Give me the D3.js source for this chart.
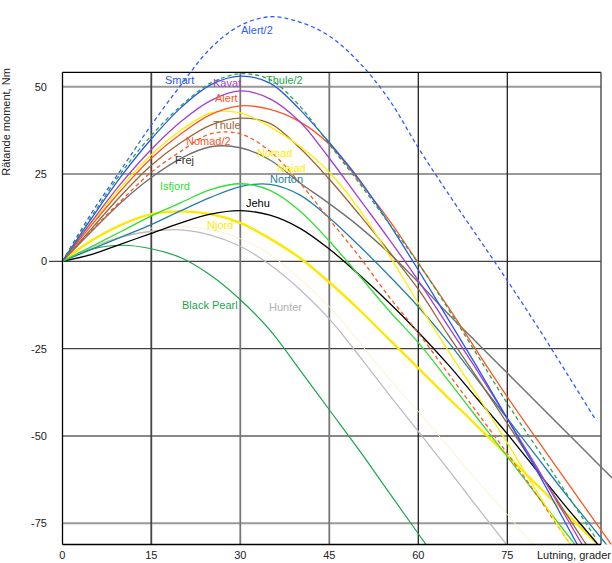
<!DOCTYPE html>
<html><head><meta charset="utf-8">
<script src="https://cdn.jsdelivr.net/npm/d3@7"></script>
<style>body{margin:0;background:#fff}svg{display:block}text{font-family:"Liberation Sans",Arial,sans-serif}</style>
</head><body>
<svg id="c" width="612" height="563"></svg>
<script>
const degrees = [0,5,10,15,20,25,30,35,40,45,50,55,60,65,70,75,80,85,90,95];
const xTicks = [0,15,30,45,60,75];
const yTicks = [50,25,0,-25,-50,-75];
const xTitle = "Lutning, grader";
const yTitle = "Rätande moment, Nm";

const alert2   = [0,14,26.5,39,50.5,61,67.5,70,68.5,64.5,57,46.5,32.5,19.5,7,-5.5,-18.5,-32,-45.7];
const smart    = [0,12.5,24.5,35,44,50.5,53,51,43.5,34,23.5,11,-2.5,-16.5,-30.5,-45,-60,-75.5,-91];
const kavat    = [0,11.5,22.5,32,40,46,48.8,46.5,40,29.5,18,6.5,-5.5,-18.5,-31.5,-45,-59,-73.5,-88];
const thule2   = [0,13,25.5,36,44.5,51,53.7,52,44.5,33.5,22.5,11,-0.5,-13.5,-27,-40.7,-53.5,-66.5,-79.5];
const alertS   = [0,10.5,20.5,29.5,36.5,42,44.5,43.5,40,33.5,23,12,-0.5,-13,-26,-38.8,-51,-63,-75,-87];
const nomad    = [0,11,21.5,30.5,37.5,42.5,42.5,38.5,33,25.5,15,2,-12,-25.5,-38.5,-52,-66,-79.5,-93];
const thule    = [0,9.5,19,27.5,34,39,41,39.5,32.5,23.5,13.5,3,-8,-21,-33.5,-46.4,-59.5,-72.5,-85.5];
const nomad2   = [0,9,17.5,25.5,31.5,36.5,36.5,31.5,22.5,12,1.5,-10,-20.5,-32,-43.5,-55,-67,-79.5,-92];
const frej     = [0,8.7,17,24,29.5,32.8,32.5,29,22.5,16.5,10,2.5,-6,-15,-23.5,-32,-40.5,-49,-57.5,-66];
const isfjord  = [0,4.3,8.6,13,16.8,20.5,22.2,20.3,14.5,5.8,-4,-14,-23.3,-34,-45,-55.9,-67,-78,-89];
const norton   = [0,3.5,7,10.5,14.5,18.3,21.4,22,19,12.5,4.5,-4,-13,-23,-34,-45,-56,-67,-77.5,-88];
const jehu     = [0,2,5,8,11,13.5,14.5,13.2,9.5,3.5,-3.8,-11.7,-20.3,-29.5,-39.5,-49.4,-60,-70.5,-80.5,-91];
const njord    = [0,6,10.5,13.5,14.3,13.5,11,6.5,1,-6,-13.8,-22.2,-30.6,-39,-47.3,-55.6,-64,-72.3,-80.6];
const hunter   = [0,4,7,8.6,9,7.5,4.3,-1,-8,-16.5,-27,-38,-48.7,-59.5,-70.5,-81.4,-92];
const blackP   = [0,3.5,4.6,3.6,1,-4,-11,-19.7,-31,-42.5,-54,-66,-78,-90];
const najad    = [0,4,7.5,9.5,10,9,6.5,2,-5,-13,-23,-33.5,-43,-53,-63,-72.5,-82.5];

const series = [
  {name:"Najad", v:najad, color:"#fbf1c8", w:1, dash:null},
  {name:"Alert/2", v:alert2, color:"#2f5cff", w:1.3, dash:"4,3"},
  {name:"Black Pearl", v:blackP, color:"#1aa64a", w:1.2, dash:null},
  {name:"Hunter", v:hunter, color:"#bdbdbd", w:1.3, dash:null},
  {name:"Njord", v:njord, color:"#ffe800", w:2.4, dash:null},
  {name:"Jehu", v:jehu, color:"#000000", w:1.3, dash:null},
  {name:"Norton", v:norton, color:"#237fa8", w:1.3, dash:null},
  {name:"Isfjord", v:isfjord, color:"#33dd33", w:1.3, dash:null},
  {name:"Frej", v:frej, color:"#707070", w:1.4, dash:null},
  {name:"Nomad/2", v:nomad2, color:"#ff5522", w:1.3, dash:"4,3"},
  {name:"Thule", v:thule, color:"#9a6536", w:1.3, dash:null},
  {name:"Nomad", v:nomad, color:"#ffee00", w:1.3, dash:null},
  {name:"Alert", v:alertS, color:"#ff5522", w:1.3, dash:null},
  {name:"Kavat", v:kavat, color:"#a23fd2", w:1.3, dash:null},
  {name:"Smart", v:smart, color:"#2a55f0", w:1.3, dash:null},
  {name:"Thule/2", v:thule2, color:"#22a84a", w:1.3, dash:"4,3"}
];

const labels = [
  {t:"Alert/2", x:241, y:34, color:"#2f5cff"},
  {t:"Smart", x:165, y:84, color:"#2a55f0"},
  {t:"Kavat", x:213, y:87, color:"#a23fd2"},
  {t:"Thule/2", x:266, y:84, color:"#22a84a"},
  {t:"Alert", x:215, y:102, color:"#ff5522"},
  {t:"Thule", x:213, y:129, color:"#9a6536"},
  {t:"Nomad/2", x:186, y:145, color:"#ff5522"},
  {t:"Nomad", x:257, y:157, color:"#ffee00"},
  {t:"Frej", x:175, y:164, color:"#333333"},
  {t:"Najad", x:277, y:172, color:"#ffee00"},
  {t:"Norton", x:270, y:183, color:"#237fa8"},
  {t:"Isfjord", x:160, y:190, color:"#33dd33"},
  {t:"Jehu", x:246, y:207, color:"#000000"},
  {t:"Njord", x:207, y:229, color:"#ffe800"},
  {t:"Black Pearl", x:182, y:309, color:"#1aa64a"},
  {t:"Hunter", x:269, y:311, color:"#b0b0b0"}
];

const L = 62.5, R = 601, T = 72.3, B = 544.5;
const x = d3.scaleLinear().domain([0,90]).range([62.3, 596.3]);
const y = d3.scaleLinear().domain([0,50]).range([261.3, 86.65]);
const svg = d3.select("#c");

// grid
const hDark = v => (v===0||v===-25);
const hColor = v => hDark(v) ? "#444" : (v===-50 ? "#888" : "#999");
svg.append("g").selectAll("line").data(yTicks).join("line")
  .attr("x1", d => d===0 ? 49 : L).attr("x2", R)
  .attr("y1", d => y(d)).attr("y2", d => y(d))
  .attr("stroke", hColor).attr("stroke-width", d => hDark(d)?1.3:2);
const vColor = v => (v>=60) ? "#222" : (v===15 ? "#444" : "#777");
svg.append("g").selectAll("line").data(xTicks.filter(d=>d>0)).join("line")
  .attr("x1", d => x(d)).attr("x2", d => x(d)).attr("y1", T).attr("y2", B)
  .attr("stroke", vColor).attr("stroke-width", d => d>=60 ? 1.3 : 1.8);

// frame
svg.append("line").attr("x1",L).attr("x2",R).attr("y1",T).attr("y2",T).attr("stroke","#000").attr("stroke-width",1.2);
svg.append("line").attr("x1",R).attr("x2",R).attr("y1",T).attr("y2",B).attr("stroke","#555").attr("stroke-width",1.5);

// clip
svg.append("clipPath").attr("id","clp").append("rect").attr("x",L).attr("y",0).attr("width",612-L).attr("height",B);

const line = d3.line().x((d,i)=>x(degrees[i])).y(d=>y(d)).curve(d3.curveCatmullRom.alpha(0.5));
svg.append("g").attr("clip-path","url(#clp)").selectAll("path").data(series).join("path")
  .attr("d", d => line(d.v)).attr("fill","none")
  .attr("stroke", d=>d.color).attr("stroke-width", d=>d.w)
  .attr("stroke-dasharray", d=>d.dash);

// axes lines
svg.append("line").attr("x1",L).attr("x2",L).attr("y1",T).attr("y2",B).attr("stroke","#000").attr("stroke-width",1.3);
svg.append("line").attr("x1",L).attr("x2",R).attr("y1",B).attr("y2",B).attr("stroke","#000").attr("stroke-width",1.5);

// tick labels
svg.append("g").selectAll("text").data(yTicks).join("text")
  .attr("x",47).attr("y",d=>y(d)+4).attr("text-anchor","end")
  .attr("font-size",11).attr("fill","#222").text(d=>d);
svg.append("g").selectAll("text").data(xTicks).join("text")
  .attr("x",d=>x(d)).attr("y",559).attr("text-anchor","middle")
  .attr("font-size",11).attr("fill","#222").text(d=>d);
svg.append("text").attr("x",537).attr("y",559).attr("font-size",11).attr("fill","#222").text(xTitle);
svg.append("text").attr("transform","translate(10,122) rotate(-90)").attr("text-anchor","middle")
  .attr("font-size",11).attr("fill","#222").text(yTitle);

// series labels
svg.append("g").selectAll("text").data(labels).join("text")
  .attr("x",d=>d.x).attr("y",d=>d.y).attr("font-size",11).attr("fill",d=>d.color).text(d=>d.t);
</script>
</body></html>
